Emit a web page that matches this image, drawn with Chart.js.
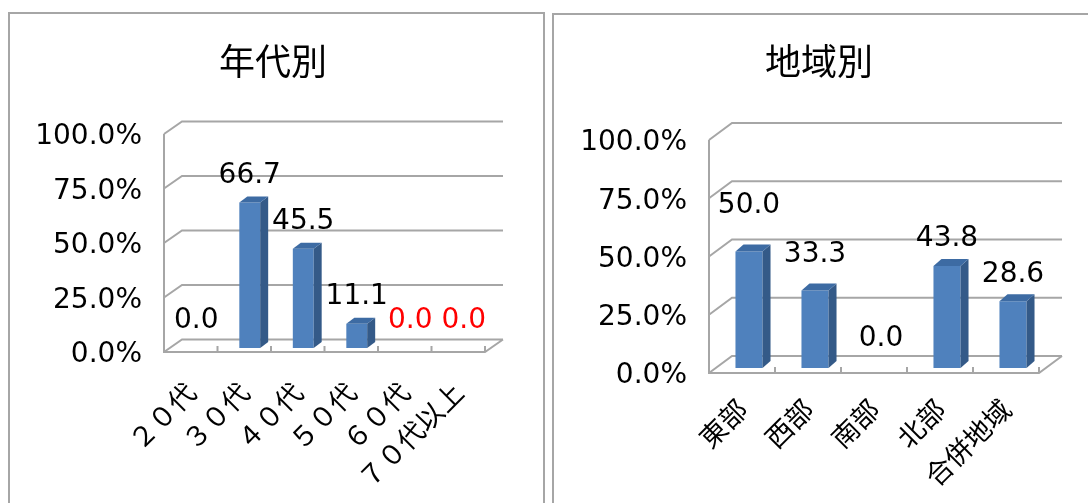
<!DOCTYPE html>
<html lang="ja">
<head>
<meta charset="utf-8">
<title>年代別・地域別</title>
<script src="https://cdn.jsdelivr.net/npm/chart.js@4.4.1/dist/chart.umd.min.js"></script>
<style>
    html, body { margin: 0; padding: 0; background: #fff; overflow: hidden; }
    .panel { position: absolute; border: 2px solid #a6a6a6; border-bottom: none; background: #fff; }
    #agePanel { left: 8px; top: 12px; width: 533px; height: 500px; }
    #regionPanel { left: 552px; top: 13px; width: 540px; height: 500px; border-right: none; }
    canvas { display: block; }
</style>
</head>
<body>
<div class="panel" id="agePanel"><canvas id="ageChart" width="533" height="489"></canvas></div>
<div class="panel" id="regionPanel"><canvas id="regionChart" width="534" height="488"></canvas></div>
<script>
// 年代別
var ageLabels = ['２０代', '３０代', '４０代', '５０代', '６０代', '７０代以上'];
var ageRates = [0.0, 66.7, 45.5, 11.1, 0.0, 0.0];
var ageLabelColors = ['#000000', '#000000', '#000000', '#000000', '#ff0000', '#ff0000'];

// 地域別
var regionLabels = ['東部', '西部', '南部', '北部', '合併地域'];
var regionRates = [50.0, 33.3, 0.0, 43.8, 28.6];
var regionLabelColors = ['#000000', '#000000', '#000000', '#000000', '#000000'];
var regionLabelRaise = [19, 9, 2, 0, 0];

var NUM_FONT = 'DejaVu Sans';
var JP_FONT = '"Noto Sans CJK JP", "Noto Sans", sans-serif';

// 立体っぽい棒と奥の壁の目盛線
var box3d = {
    id: 'box3d',
    beforeDatasetsDraw: function(chart, args, opts) {
        var ctx = chart.ctx;
        var area = chart.chartArea;
        var xs = chart.scales.x;
        var ys = chart.scales.y;
        var y0 = ys.getPixelForValue(0);
        var yTop = ys.getPixelForValue(ys.max);

        ctx.save();
        ctx.strokeStyle = '#a6a6a6';
        ctx.lineWidth = 2;
        ctx.beginPath();
        ys.ticks.forEach(function(t) {
            var py = ys.getPixelForValue(t.value);
            ctx.moveTo(area.left, py);
            ctx.lineTo(area.left + opts.dx, py + opts.dy);
            ctx.lineTo(area.right + opts.dx, py + opts.dy);
        });
        // 手前の軸と床
        ctx.moveTo(area.left, yTop);
        ctx.lineTo(area.left, y0);
        ctx.lineTo(area.right, y0);
        ctx.lineTo(area.right + opts.dx, y0 + opts.dy);
        // 区切りの目盛り
        var n = xs.ticks.length;
        for (var i = 1; i <= n; i++) {
            var px = i < n ? (xs.getPixelForTick(i - 1) + xs.getPixelForTick(i)) / 2 : area.right;
            ctx.moveTo(px, y0);
            ctx.lineTo(px, y0 - 6);
        }
        ctx.stroke();
        ctx.restore();

        // 棒は床の少し奥に置く
        ctx.save();
        ctx.translate(opts.shiftX, opts.shiftY);
    },
    afterDatasetsDraw: function(chart, args, opts) {
        var ctx = chart.ctx;
        var values = chart.data.datasets[0].data;
        var meta = chart.getDatasetMeta(0);

        meta.data.forEach(function(bar, i) {
            var p = bar.getProps(['x', 'y', 'base', 'width'], true);
            var l = p.x - p.width / 2;
            var r = p.x + p.width / 2;
            if (values[i] > 0) {
                // 側面
                ctx.fillStyle = '#345a88';
                ctx.beginPath();
                ctx.moveTo(r, p.y);
                ctx.lineTo(r + opts.depthX, p.y + opts.depthY);
                ctx.lineTo(r + opts.depthX, p.base + opts.depthY);
                ctx.lineTo(r, p.base);
                ctx.closePath();
                ctx.fill();
                // 上面
                ctx.fillStyle = '#3d6ba3';
                ctx.beginPath();
                ctx.moveTo(l, p.y);
                ctx.lineTo(l + opts.depthX, p.y + opts.depthY);
                ctx.lineTo(r + opts.depthX, p.y + opts.depthY);
                ctx.lineTo(r, p.y);
                ctx.closePath();
                ctx.fill();
            }
            // 値ラベル
            var raise = opts.raise ? opts.raise[i] : 0;
            ctx.fillStyle = opts.labelColors[i];
            ctx.font = '28px ' + NUM_FONT;
            ctx.textAlign = 'center';
            ctx.textBaseline = 'middle';
            ctx.fillText(values[i].toFixed(1), p.x, p.y - opts.lift - raise);
        });
        ctx.restore();
    }
};

function makeChart(canvasId, title, labels, values, geo) {
    var ctx = document.getElementById(canvasId).getContext('2d');
    return new Chart(ctx, {
        type: 'bar',
        data: {
            labels: labels,
            datasets: [
                {
                    data: values,
                    backgroundColor: '#4f81bd',
                    borderWidth: 0,
                    categoryPercentage: 1.0,
                    barPercentage: geo.barPct,
                    clip: false
                }
            ]
        },
        options: {
            responsive: false,
            animation: false,
            layout: {
                padding: { left: 0, right: geo.padRight, top: 0, bottom: 0 }
            },
            scales: {
                x: {
                    grid: { display: false, drawTicks: false },
                    border: { display: false },
                    ticks: {
                        color: '#000',
                        font: { family: JP_FONT, size: geo.catFont },
                        minRotation: 45,
                        maxRotation: 45,
                        autoSkip: false,
                        padding: geo.catPad
                    },
                    afterFit: function(scale) { scale.height = geo.xHeight; }
                },
                y: {
                    min: 0,
                    max: 100,
                    grid: { display: false, drawTicks: false },
                    border: { display: false },
                    ticks: {
                        stepSize: 25,
                        color: '#000',
                        padding: 22,
                        labelOffset: 3,
                        font: { family: NUM_FONT, size: 28 },
                        callback: function(v) { return v.toFixed(1) + '%'; }
                    },
                    afterFit: function(scale) { scale.width = geo.yWidth; }
                },
                // 奥の壁のぶん右側を空けておく
                edge: {
                    type: 'linear',
                    position: 'right',
                    grid: { display: false, drawTicks: false },
                    border: { display: false },
                    ticks: { display: false },
                    afterFit: function(scale) { scale.width = geo.edgeWidth; }
                }
            },
            plugins: {
                legend: { display: false },
                tooltip: { enabled: false },
                title: {
                    display: true,
                    text: title,
                    color: '#000',
                    font: { family: JP_FONT, size: 36, weight: 'normal' },
                    padding: { top: geo.titleTop, bottom: geo.titleBottom }
                },
                box3d: geo.box
            }
        },
        plugins: [box3d]
    });
}

document.addEventListener('DOMContentLoaded', function() {
    makeChart('ageChart', '年代別', ageLabels, ageRates, {
        barPct: 0.39,
        padRight: 7,
        yWidth: 154,
        edgeWidth: 51,
        xHeight: 151,
        catFont: 27,
        catPad: 24,
        titleTop: 25.4,
        titleBottom: 51.4,
        box: { dx: 18, dy: -12.5, shiftX: 5.5, shiftY: -4, depthX: 8, depthY: -6, lift: 27, labelColors: ageLabelColors }
    });
    makeChart('regionChart', '地域別', regionLabels, regionRates, {
        barPct: 0.41,
        padRight: 4,
        yWidth: 155,
        edgeWidth: 45,
        xHeight: 130,
        catFont: 27,
        catPad: 20,
        titleTop: 24.4,
        titleBottom: 57.4,
        box: { dx: 23, dy: -17, shiftX: 7, shiftY: -5, depthX: 8, depthY: -7, lift: 27, raise: regionLabelRaise, labelColors: regionLabelColors }
    });
});
</script>
</body>
</html>
